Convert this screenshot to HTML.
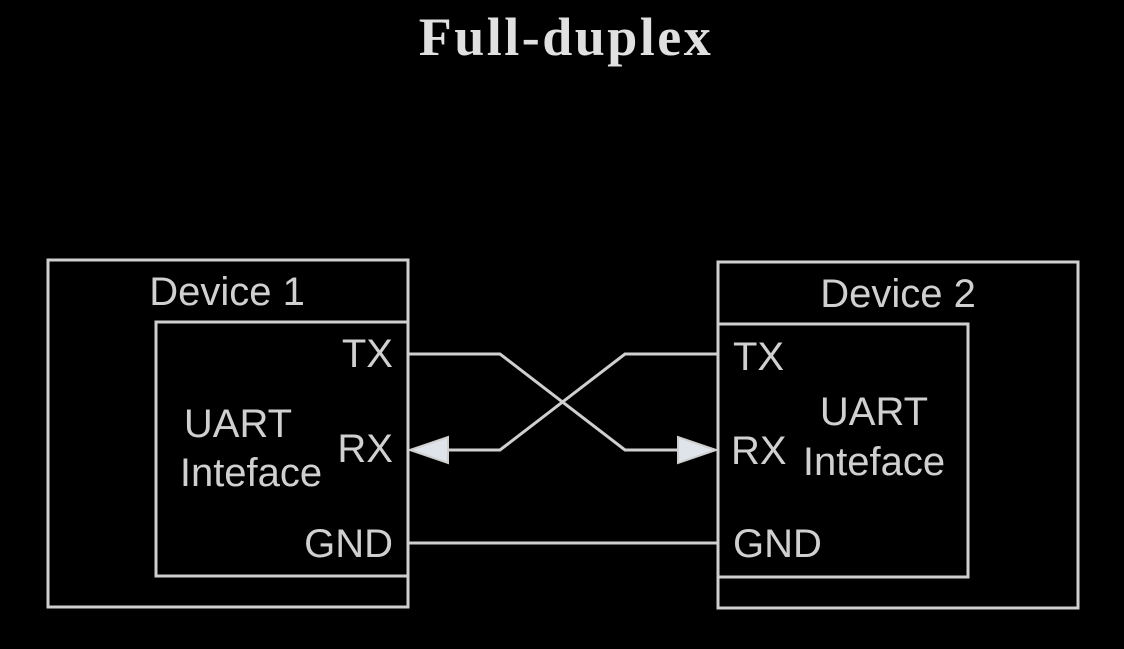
<!DOCTYPE html>
<html><head><style>
body{margin:0;background:#000;}
svg text{font-family:"Liberation Sans",sans-serif;fill:#d0d0d0;}
</style></head><body>
<svg width="1124" height="644" xmlns="http://www.w3.org/2000/svg">
<rect width="1124" height="644" fill="#000"/>
<text x="566" y="55" text-anchor="middle" style="font-family:'Liberation Serif',serif;font-size:54px;font-weight:bold;fill:#e0e0e0;letter-spacing:2.5px">Full-duplex</text>
<g fill="none" stroke="#cfcfcf" stroke-width="3">
<rect x="48" y="260" width="360" height="347"/>
<rect x="156" y="322" width="252" height="254"/>
<rect x="718" y="262" width="360" height="346"/>
<rect x="718" y="324" width="250" height="253"/>
<polyline points="408,354 500,354 625,450 680,450"/>
<polyline points="718,354 625,354 500,450 446,450"/>
<line x1="408" y1="543" x2="718" y2="543"/>
</g>
<polygon points="410,450 448,437 448,463" fill="#dfe4ea" stroke="#cfcfcf" stroke-width="2"/>
<polygon points="716,450 678,437 678,463" fill="#dfe4ea" stroke="#cfcfcf" stroke-width="2"/>
<g font-size="40">
<text x="227" y="305" text-anchor="middle">Device 1</text>
<text x="898" y="307" text-anchor="middle">Device 2</text>
<text x="393" y="367" text-anchor="end">TX</text>
<text x="393" y="462" text-anchor="end">RX</text>
<text x="393" y="557" text-anchor="end">GND</text>
<text x="238" y="437" text-anchor="middle">UART</text>
<text x="251" y="486" text-anchor="middle">Inteface</text>
<text x="733" y="370">TX</text>
<text x="731" y="464">RX</text>
<text x="733" y="557">GND</text>
<text x="874" y="425" text-anchor="middle">UART</text>
<text x="874" y="475" text-anchor="middle">Inteface</text>
</g>
</svg>
</body></html>
